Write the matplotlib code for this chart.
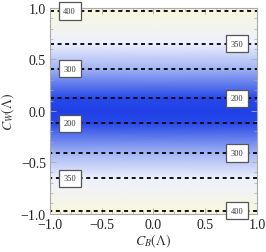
import numpy as np
import matplotlib
matplotlib.use('Agg')
import matplotlib.pyplot as plt
from matplotlib.colors import LinearSegmentedColormap

# C_W rows and the value of the mass at each row (no C_B dependence)
cw_rows = [-1.0, -0.972, -0.655, -0.41, -0.123, 0.0, 0.123, 0.41, 0.655, 0.972, 1.0]
mass_rows = [403, 400, 350, 300, 200, 170, 200, 300, 350, 400, 403]
cb_cols = [-1.0, 1.0]

contour_levels = [200, 300, 350, 400]

# contour labels: (C_B position, level, which half of C_W)
label_cb = [-0.81, -0.81, -0.81, -0.81, 0.81, 0.81, 0.81, 0.81]
label_level = [400, 300, 200, 350, 350, 200, 300, 400]
label_sign = [1, 1, -1, -1, 1, 1, -1, -1]

plt.rcParams['font.family'] = ['Liberation Serif', 'DejaVu Serif']
plt.rcParams['mathtext.fontset'] = 'stix'

fig = plt.figure(figsize=(2.66, 2.53), dpi=100)
ax = fig.add_axes([0.188, 0.152, 0.778, 0.812])

cmap = LinearSegmentedColormap.from_list('bw', [
    (0.0, '#2040e6'),
    (0.13, '#2648e8'),
    (0.32, '#4262ea'),
    (0.56, '#a2b4f3'),
    (0.78, '#f0f2fd'),
    (0.92, '#fafaf6'),
    (1.0, '#f6f6dc'),
])

X, Y = np.meshgrid(cb_cols, cw_rows)
Z = np.array(mass_rows, dtype=float)[:, None] * np.ones_like(X)

ax.pcolormesh(X, Y, Z, shading='gouraud', cmap=cmap, vmin=170, vmax=403)
ax.contour(X, Y, Z, levels=contour_levels, colors='black',
           linewidths=1.3, linestyles=[(0, (2.2, 2.0))])

# label positions read from the same rows
pos_cw = np.array(cw_rows[5:])
pos_mass = np.array(mass_rows[5:])
for cb, lev, sgn in zip(label_cb, label_level, label_sign):
    y = sgn * np.interp(lev, pos_mass, pos_cw)
    ax.text(cb, y, str(lev), ha='center', va='center', fontsize=6, color='#333333',
            bbox=dict(boxstyle='square,pad=0.55', fc='white', ec='#555555', lw=0.9),
            zorder=5)

ax.set_xlim(-1, 1)
ax.set_ylim(-1, 1)
ax.set_xticks([-1.0, -0.5, 0.0, 0.5, 1.0])
ax.set_yticks([-1.0, -0.5, 0.0, 0.5, 1.0])
ax.set_xticklabels(['\u22121.0', '\u22120.5', '0.0', '0.5', '1.0'])
ax.set_yticklabels(['\u22121.0', '\u22120.5', '0.0', '0.5', '1.0'])
ax.set_xticks(np.arange(-1, 1.01, 0.1), minor=True)
ax.set_yticks(np.arange(-1, 1.01, 0.1), minor=True)
ax.tick_params(which='both', direction='in', top=True, right=True, color='#aaaaaa',
               labelsize=10, labelcolor='#222222')
ax.tick_params(which='major', length=4, width=0.6, pad=3)
ax.tick_params(which='minor', length=2, width=0.5)
for s in ax.spines.values():
    s.set_color('#aaaaaa')
    s.set_linewidth(0.8)

ax.set_xlabel(r'$C_B(\Lambda)$', fontsize=10, color='#333333', labelpad=1)
ax.set_ylabel(r'$C_W(\Lambda)$', fontsize=10, color='#333333', labelpad=3)

fig.savefig('out.png', dpi=100)
